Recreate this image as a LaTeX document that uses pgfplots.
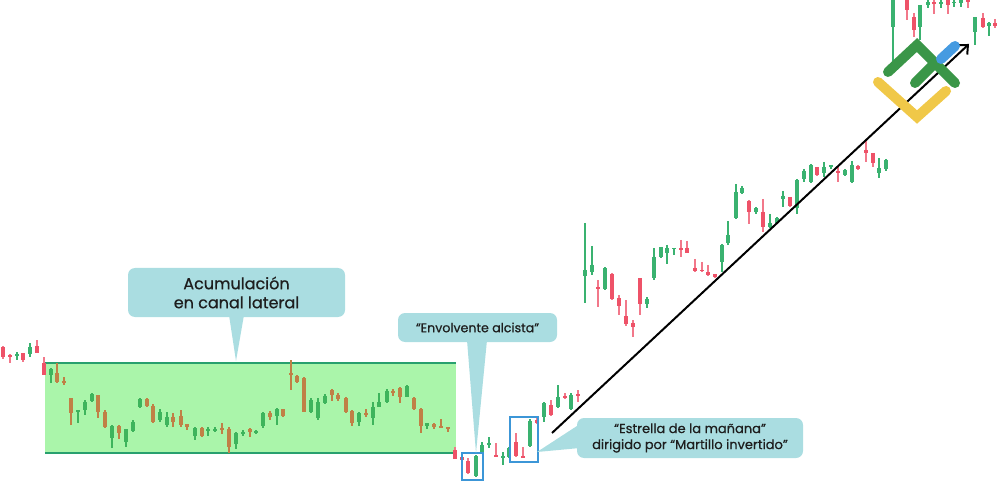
\documentclass[border=0pt]{standalone}
\usepackage{pgfplots}
\pgfplotsset{compat=1.18}
\usepackage{pgfplotstable}
\usetikzlibrary{arrows.meta}
\usepackage{fontspec}
\setmainfont{Poppins}[UprightFeatures={FakeBold=0.6}]
\definecolor{cgreen}{RGB}{58,178,112}
\definecolor{cred}{RGB}{238,82,104}
\definecolor{credw}{RGB}{242,120,138}
\definecolor{bgreen}{RGB}{62,180,92}
\definecolor{bbrown}{RGB}{192,128,70}
\definecolor{boxfill}{RGB}{170,245,170}
\definecolor{boxline}{RGB}{40,160,110}
\definecolor{callout}{RGB}{170,221,225}
\definecolor{cblue}{RGB}{60,150,215}
\definecolor{lgreen}{RGB}{58,150,72}
\definecolor{lyellow}{RGB}{240,200,72}
\definecolor{lblue}{RGB}{70,155,225}
\definecolor{txt}{RGB}{30,30,30}

% columns: x (px), body top, body bottom, wick top, wick bottom (pixel y, downward)
\pgfplotstableread{
x btop bbot wtop wbot
3 347 357 346 359
10 355 357 354 363
23 353 360 353 362
37 346 353 340 353
44 363 375 357 375
455 450 459 447 459
462 457 460 455 462
468 461 473 458 474
496 455 457 443 457
516 442 456 433 457
523 456 457.5 447 458
537 420 423 417 424
551 405 415 400 416
565 396 397.5 393 399
578 394 395.5 390 402
598 287 288.5 280 307
612 274 299 273 300
619 298 306 295 315
626 316 324 300 326
633 323 327 320 337
640 278 304 278 315
681 248 250 240 257
687 248 253 241 253
695 268 271 259 272
702 270 271.5 262 272
708 272 275 265 276
715 274 277 274 278
749 201 212 200 224
763 212 227 199 232
790 197 206 197 207
817 167 175 167 176
838 171 173 167 182
858 166 169 165 170
866 150 153 140 162
873 153 163 153 167
907 -5 10 -5 20
914 17 30 13 37
934 2 4 0 14
948 0 5 0 14
968 0 2 0 8
983 18 27 13 28
995 23 26 19 28
}\redtab

\pgfplotstableread{
x btop bbot wtop wbot
17 354 356 352 360
30 347 354 343 357
476 456 476 455 477
482 445 453 442 454
489 443 444.5 437 448
503 456 457.5 452 465
509 448 457 447 458
530 421 446 419 447
544 403 417 402 422
558 397 407 385 408
571 395 409 393 410
585 270 276 223 303
592 265 272 246 275
605 268 289 267 290
647 299 304 297 308
654 257 278 248 280
661 247 257 247 258
667 248 253 245 264
674 248 249.5 248 255
722 245 262 244 272
728 235 243 221 245
736 192 218 184 219
742 188 193 186 194
756 208 212 207 214
770 223 227 214 228
777 218 223 217 224
783 196 199 191 207
797 180 208 179 214
804 171 179 169 182
811 165 182 164 183
824 167 173 162 177
831 165 167 165 169
845 170 175 169 176
852 165 182 161 183
879 168 173 158 178
886 160 169 159 171
893 -5 27 -5 62
920 5 27 5 40
928 2 5 0 8
941 2 4 0 8
954 2 3.5 0 7
961 0 3 0 7
975 17 32 17 45
989 23 26 22 36
}\greentab

\pgfplotstableread{
x btop bbot wtop wbot
51 369 375 368 383
78 410 412 410 423
85 402 410 400 415
92 394 401 393 402
112 426 438 425 448
126 429 442 429 447
133 422 431 420 432
140 399 407 398 408
160 412 420 409 422
167 417 425 412 427
195 428 436 427 440
208 429 430.5 427 436
215 429 430.5 427 432
236 433 444 432 449
243 432 433.5 430 436
256 431 432.5 430 434
263 413 426 412 428
277 409 416 408 425
311 400 412 398 413
318 402 418 398 420
325 396 403 394 404
359 413 422 412 426
373 407 418 402 425
379 402 407 393 407
387 391 402 389 403
407 386 397 385 397
427 423 426 423 429
}\boxgreentab

\pgfplotstableread{
x btop bbot wtop wbot
57 373 382 363 383
64 381 382.5 377 385
71 398 413 398 425
98 395 412 395 418
105 412 427 410 428
119 426 433 425 439
147 399 406 398 407
153 406 422 404 423
173 417 422 413 427
181 416 425 410 427
187 424 427 424 430
202 428 436 427 437
222 428 429.5 423 434
229 429 447 427 453
250 429 432 428 437
270 413 417 411 420
283 409 416 409 417
291 373 375 360 390
297 376 382 375 383
304 378 412 377 412
332 390 395 389 401
338 395 399 393 401
346 398 412 397 413
352 411 423 410 426
366 413 415 409 417
393 391 393 389 396
400 388 397 387 403
414 398 409 397 410
421 409 426 408 433
434 424 427 423 429
441 426 427.5 419 428
448 427 429 427 432
}\browntab

\pgfplotsset{
  wick/.style={draw=none, no markers, forget plot,
    error bars/.cd, y dir=plus, y explicit, error mark=none,
    error bar style={line width=1.1pt, draw=#1}},
  body/.style={draw=none, no markers, forget plot,
    error bars/.cd, y dir=plus, y explicit, error mark=none,
    error bar style={line width=4.2pt, draw=#1}},
}

\begin{document}
\begin{tikzpicture}
\begin{axis}[
  scale only axis, width=1000pt, height=502pt,
  xmin=0, xmax=1000, ymin=0, ymax=502, y dir=reverse,
  hide axis, clip=true,
]
\path (axis cs:0,0) rectangle (axis cs:1000,502);
% sideways channel
\fill[boxfill] (axis cs:45,363) rectangle (axis cs:456,453);
\draw[boxline, line width=2pt] (axis cs:45,363) -- (axis cs:456,363);
\draw[boxline, line width=2pt] (axis cs:45,453) -- (axis cs:456,453);

% candles
\addplot[wick=credw] table[x=x, y=wtop, y error expr=\thisrow{wbot}-\thisrow{wtop}] {\redtab};
\addplot[body=cred] table[x=x, y=btop, y error expr={max(\thisrow{bbot}-\thisrow{btop},1.3)}] {\redtab};
\addplot[wick=cgreen] table[x=x, y=wtop, y error expr=\thisrow{wbot}-\thisrow{wtop}] {\greentab};
\addplot[body=cgreen] table[x=x, y=btop, y error expr={max(\thisrow{bbot}-\thisrow{btop},1.3)}] {\greentab};
\addplot[wick=bgreen] table[x=x, y=wtop, y error expr=\thisrow{wbot}-\thisrow{wtop}] {\boxgreentab};
\addplot[body=bgreen] table[x=x, y=btop, y error expr={max(\thisrow{bbot}-\thisrow{btop},1.3)}] {\boxgreentab};
\addplot[wick=bbrown] table[x=x, y=wtop, y error expr=\thisrow{wbot}-\thisrow{wtop}] {\browntab};
\addplot[body=bbrown] table[x=x, y=btop, y error expr={max(\thisrow{bbot}-\thisrow{btop},1.3)}] {\browntab};

% pattern boxes
\draw[cblue, line width=1.8pt] (axis cs:462,453) rectangle (axis cs:483,480);
\draw[cblue, line width=1.8pt] (axis cs:510,417) rectangle (axis cs:538,462);

% trend arrow
\draw[black, line width=2pt, -{Straight Barb[length=7pt,width=13pt]}] (axis cs:552,433) -- (axis cs:969,44);

% logo
\draw[lyellow, line width=10pt, line cap=round, line join=miter] (axis cs:878,82) -- (axis cs:917,117) -- (axis cs:946,91);
\draw[lgreen, line width=10pt, line cap=round, line join=miter] (axis cs:888,72) -- (axis cs:917,45) -- (axis cs:955,83);
\draw[lgreen, line width=10pt, line cap=round, line join=miter] (axis cs:915,83) -- (axis cs:935,63);
\draw[lblue, line width=10pt, line cap=round] (axis cs:941,59) -- (axis cs:955,46);

% callouts
\fill[callout] (axis cs:229,315) -- (axis cs:244,315) -- (axis cs:236,361) -- cycle;
\fill[callout, rounded corners=7pt] (axis cs:128,268) rectangle (axis cs:345,317);
\node[txt, align=center, font=\fontsize{16}{19}\selectfont] at (axis cs:236.5,292.5) {Acumulación\\en canal lateral};

\fill[callout] (axis cs:467,340) -- (axis cs:487,340) -- (axis cs:476,453) -- cycle;
\fill[callout, rounded corners=7pt] (axis cs:398,313) rectangle (axis cs:557,342);
\node[txt, font=\fontsize{12.6}{14}\selectfont] at (axis cs:477.5,327.5) {“Envolvente alcista”};

\fill[callout] (axis cs:580,424) -- (axis cs:580,448) -- (axis cs:537,452) -- cycle;
\fill[callout, rounded corners=7pt] (axis cs:577,418) rectangle (axis cs:803,458);
\node[txt, align=center, font=\fontsize{13}{16}\selectfont] at (axis cs:690,438) {“Estrella de la mañana”\\dirigido por “Martillo invertido”};
\end{axis}
\end{tikzpicture}
\end{document}
